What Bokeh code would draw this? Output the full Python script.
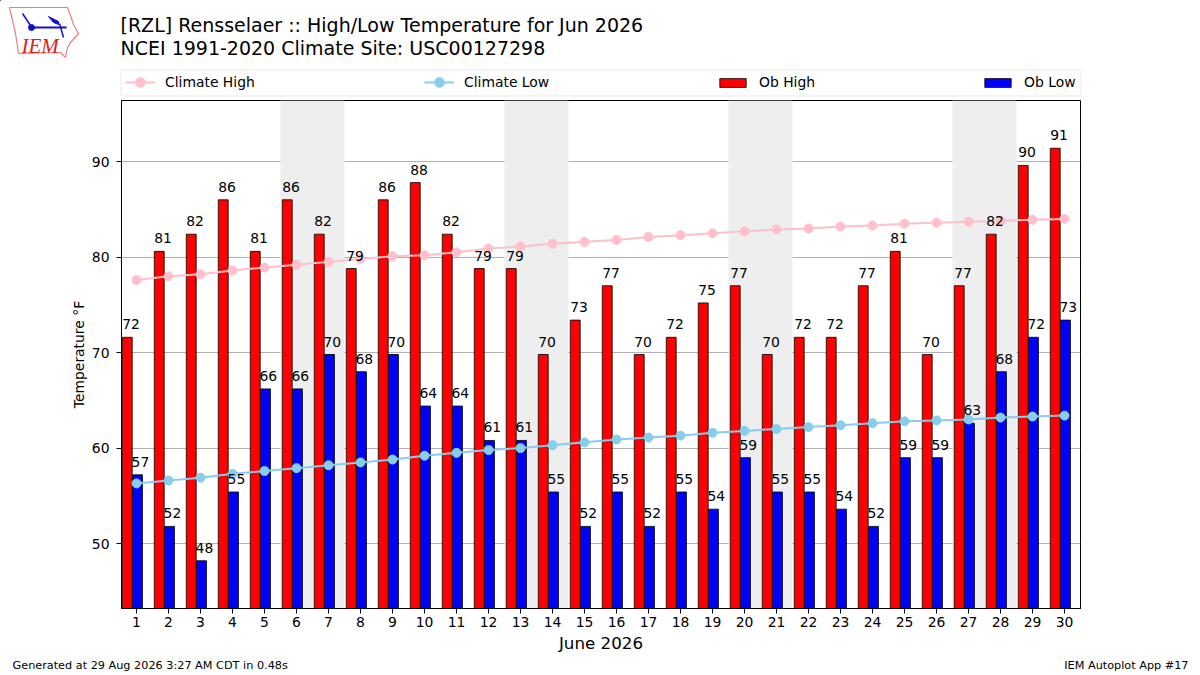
from bokeh.plotting import figure
from bokeh.layouts import column
from bokeh.models import (ColumnDataSource, Label, Legend, LegendItem, FixedTicker, BoxAnnotation, Range1d)
from bokeh.core.properties import value
from bokeh.embed import file_html
from bokeh.resources import INLINE

days = list(range(1, 31))
ob_high = [71.6,80.6,82.4,86.0,80.6,86.0,82.4,78.8,86.0,87.8,82.4,78.8,78.8,69.8,73.4,77.0,69.8,71.6,75.2,77.0,69.8,71.6,71.6,77.0,80.6,69.8,77.0,82.4,89.6,91.4]
ob_low = [57.2,51.8,48.2,55.4,66.2,66.2,69.8,68.0,69.8,64.4,64.4,60.8,60.8,55.4,51.8,55.4,51.8,55.4,53.6,59.0,55.4,55.4,53.6,51.8,59.0,59.0,62.6,68.0,71.6,73.4]
clim_high = [77.6,78.0,78.2,78.6,78.9,79.2,79.5,79.8,80.1,80.2,80.5,80.9,81.1,81.4,81.6,81.8,82.1,82.3,82.5,82.7,82.9,83.0,83.2,83.3,83.5,83.6,83.7,83.8,83.9,84.0]
clim_low = [56.3,56.6,56.9,57.3,57.6,57.9,58.2,58.5,58.8,59.2,59.5,59.8,60.0,60.3,60.6,60.9,61.1,61.3,61.6,61.8,62.0,62.2,62.4,62.6,62.8,62.9,63.0,63.2,63.3,63.4]
weekends = [(5.5, 7.5), (12.5, 14.5), (19.5, 21.5), (26.5, 28.5)]
title_lines = ["[RZL] Rensselaer :: High/Low Temperature for Jun 2026", "NCEI 1991-2020 Climate Site: USC00127298"]
footer_left = "Generated at 29 Aug 2026 3:27 AM CDT in 0.48s"
footer_right = "IEM Autoplot App #17"
FONT = "DejaVu Sans"
W = 1200
HEAD, MAIN_BOTTOM, TOTAL = 97, 655, 675


def strip(top, bottom):
    f = figure(width=W, height=bottom - top, output_backend="svg", toolbar_location=None,
               x_range=Range1d(0, W), y_range=Range1d(bottom, top),
               x_axis_location=None, y_axis_location=None,
               min_border_left=0, min_border_right=0, min_border_top=0, min_border_bottom=0,
               background_fill_color="white", border_fill_color="white", frame_align=False)
    f.outline_line_color = None
    f.xgrid.visible = False
    f.ygrid.visible = False
    return f


def txt(f, x, y, s, size, align="left", font=FONT, color="black", style="normal"):
    f.add_layout(Label(x=x, y=y, text=s, text_font=font, text_font_size=size, text_align=align,
                       text_baseline="middle", text_color=color, text_font_style=style))


# header strip: logo, titles, legend
head = strip(0, HEAD)
head.patch([9,67,70,73,78,70,67,65,60,18,15], [7,7,15,24,33,42,47,57,52,53,33],
           fill_color=None, line_color="#e88080", line_width=1.2)
BLUE = "#1010d0"
head.line([31, 66], [27, 27], line_color=BLUE, line_width=2)
head.line([22, 30], [13, 25], line_color=BLUE, line_width=1.5)
head.line([59, 63], [23, 37], line_color=BLUE, line_width=1.5)
head.patch([48, 58, 58, 53], [16, 21, 24, 22], fill_color=BLUE, line_color=BLUE)
head.scatter([31], [27], size=6, fill_color=BLUE, line_color=BLUE)
txt(head, 21, 45, "IEM", "21px", font="Liberation Serif", color="#e02020", style="italic")
txt(head, 120, 24, title_lines[0], "19px")
txt(head, 120, 47, title_lines[1], "19px")
head.add_layout(BoxAnnotation(left=120.5, right=1080.5, top=69.5, bottom=95.5, fill_color="white", fill_alpha=1,
                              line_color="#cfcfcf", line_width=1.5, border_radius=3, level="underlay"))
# off-range keys: these renderers only feed the legend swatches
off_x, off_y = [-50, -40], [-50, -50]
lh = head.line(off_x, off_y, line_color="pink", line_width=2)
mh = head.scatter(off_x, off_y, size=9, fill_color="pink", line_color="pink")
ll = head.line(off_x, off_y, line_color="skyblue", line_width=2)
ml = head.scatter(off_x, off_y, size=9, fill_color="skyblue", line_color="skyblue")
bh = head.vbar(x=off_x, top=off_y, bottom=-60, width=1, fill_color="red", line_color="black", line_width=0.8)
bl = head.vbar(x=off_x, top=off_y, bottom=-60, width=1, fill_color="blue", line_color="black", line_width=0.8)
for label, rends, gx, gh, gw in (("Climate High", [lh, mh], 125, 24, 30), ("Climate Low", [ll, ml], 424, 24, 30),
                                 ("Ob High", [bh], 716, 11, 33), ("Ob Low", [bl], 981, 11, 33)):
    head.add_layout(Legend(items=[LegendItem(label=label, renderers=rends, index=0)], location=(gx, 3), margin=0, padding=0,
                           label_text_font=FONT, label_text_font_size="13.9px", label_text_color="black",
                           label_standoff=10, glyph_width=gw, glyph_height=gh, label_height=24,
                           border_line_color=None, background_fill_alpha=0), "center")

# main chart
p = figure(width=W, height=MAIN_BOTTOM - HEAD, output_backend="svg", toolbar_location=None,
           x_range=Range1d(0.53, 30.5), y_range=Range1d(43.2, 96.4),
           min_border_left=121, min_border_right=W - 1080, min_border_top=100 - HEAD, min_border_bottom=MAIN_BOTTOM - 609,
           background_fill_color="white", border_fill_color="white", frame_align=False)
p.outline_line_color = "black"
p.outline_line_width = 1
p.xgrid.visible = False
p.ygrid.grid_line_color = "#b0b0b0"
p.ygrid.level = "underlay"
for ax in (p.xaxis[0], p.yaxis[0]):
    ax.major_label_text_font = FONT
    ax.major_label_text_font_size = "13.9px"
    ax.major_label_text_color = "black"
    ax.axis_line_color = "black"
    ax.major_tick_line_color = "black"
    ax.major_tick_out = 5
    ax.major_tick_in = 0
    ax.minor_tick_line_color = None
    ax.axis_label_text_font = FONT
    ax.axis_label_text_font_style = "normal"
    ax.axis_label_text_color = "black"
p.xaxis[0].major_label_standoff = 3
p.yaxis[0].major_label_standoff = 7
p.xaxis[0].ticker = FixedTicker(ticks=days)
p.yaxis[0].ticker = FixedTicker(ticks=[50, 60, 70, 80, 90])
p.xaxis[0].axis_label = "June 2026"
p.xaxis[0].axis_label_text_font_size = "16.7px"
p.xaxis[0].axis_label_standoff = 3
p.yaxis[0].axis_label = "Temperature °F"
p.yaxis[0].axis_label_text_font_size = "13.9px"
p.yaxis[0].axis_label_standoff = 2

for a, b in weekends:
    p.add_layout(BoxAnnotation(left=a, right=b, fill_color="#eeeeee", fill_alpha=1, line_color=None, level="underlay"))

src = ColumnDataSource(dict(
    xh=[d - 0.29 for d in days], xl=[d + 0.03 for d in days],
    xht=[d - 0.17 for d in days], xlt=[d + 0.12 for d in days],
    high=ob_high, low=ob_low, clim_high=clim_high, clim_low=clim_low, day=days,
    high_t=[f"{v:.0f}" for v in ob_high], low_t=[f"{v:.0f}" for v in ob_low]))

p.vbar(x="xh", width=0.31, top="high", bottom=0, source=src, fill_color="red", line_color="black", line_width=0.8)
p.vbar(x="xl", width=0.31, top="low", bottom=0, source=src, fill_color="blue", line_color="black", line_width=0.8)
p.line("day", "clim_high", source=src, line_color="pink", line_width=2)
p.scatter("day", "clim_high", source=src, size=9, fill_color="pink", line_color="pink")
p.line("day", "clim_low", source=src, line_color="skyblue", line_width=2)
p.scatter("day", "clim_low", source=src, size=9, fill_color="skyblue", line_color="skyblue")
for xc, yc, tc in (("xht", "high", "high_t"), ("xlt", "low", "low_t")):
    p.text(xc, yc, text=tc, source=src, text_align="center", text_baseline="middle", y_offset=-13,
           text_font=value(FONT), text_font_size="13.9px", text_color="black")

# footer strip
foot = strip(MAIN_BOTTOM, TOTAL)
txt(foot, 12, 665, footer_left, "11.25px")
txt(foot, 1188, 665, footer_right, "11.25px", align="right")

page = column(head, p, foot, spacing=0)
open("out.html", "w").write(file_html(page, INLINE))
